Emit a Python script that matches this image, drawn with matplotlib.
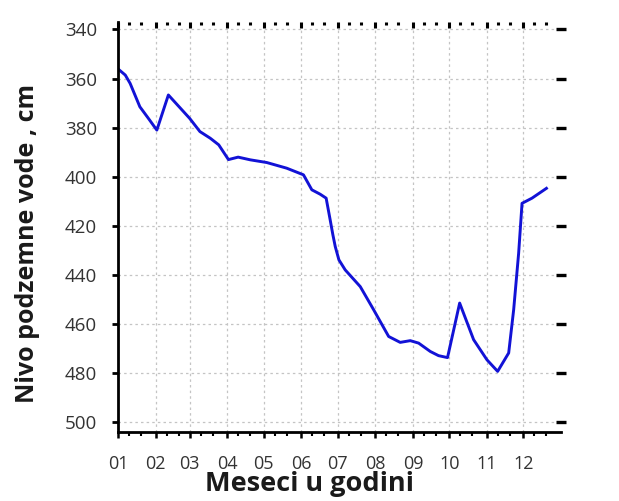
import matplotlib
matplotlib.use('Agg')
import matplotlib.pyplot as plt

# dan u godini i nivo podzemne vode (cm), procitano sa grafika
days = [1, 6, 10, 18, 25, 32, 41.5, 59, 67.5, 76, 83, 91, 99, 109, 122.6,
        139, 152.8, 159.7, 166.6, 171.5, 174.8, 177, 179, 182, 187.2, 199.6,
        210.6, 223, 232.5, 240.8, 247.7, 257.3, 264.1, 271.5, 281.5, 293,
        304, 312.8, 321.9, 326, 330.1, 332.9, 341.1, 353]
levels = [356.5, 358.6, 362, 371.5, 376.2, 381, 366.7, 376.2, 381.6, 384.3,
          387, 393, 392, 393.1, 394.2, 396.5, 399.2, 405.3, 407.1, 408.7,
          417.5, 423.5, 428.4, 433.8, 437.9, 444.7, 454.1, 465.0, 467.4, 466.7,
          467.7, 471.1, 472.8, 473.6, 451.4, 466.3, 474.5, 479.2, 471.7,
          454.1, 431.1, 410.8, 408.7, 404.7]

month_starts = [0, 31, 59, 90, 120, 151, 181, 212, 243, 273, 304, 334]
month_labels = ['01', '02', '03', '04', '05', '06', '07', '08', '09', '10', '11', '12']
y_ticks = [340, 360, 380, 400, 420, 440, 460, 480, 500]

fig = plt.figure(figsize=(6.19, 5.01), dpi=100)
ax = fig.add_axes([118 / 619, 1 - 432.3 / 501, 443 / 619, 410.3 / 501])

ax.plot(days, levels, color='#1212d6', linewidth=2.1, solid_joinstyle='round')

ax.set_xlim(0, 365)
ax.set_ylim(504, 337)

ax.set_xticks(month_starts)
ax.set_xticklabels(month_labels)
minor = []
for m in month_starts:
    minor += [m + 9, m + 19]
ax.set_xticks(minor, minor=True)
ax.set_yticks(y_ticks)

ax.grid(True, which='major', color='#c4c4c4', linestyle=(0, (2, 2.5)), linewidth=0.9)

for side in ['top', 'right']:
    ax.spines[side].set_visible(False)
for side in ['left', 'bottom']:
    ax.spines[side].set_linewidth(2.0)
    ax.spines[side].set_color('black')

ax.tick_params(axis='x', which='major', direction='out', length=4, width=1.8,
               top=True, pad=12, labelsize=13, labelcolor='#333333')
ax.tick_params(axis='x', which='minor', direction='out', length=3, width=1.5,
               top=True)
ax.tick_params(axis='x', which='both', labeltop=False)
# gornji tikovi kao tackice
for t in ax.xaxis.get_major_ticks():
    t.tick2line.set_marker(3)
    t.tick2line.set_markersize(4.5)
    t.tick2line.set_markeredgewidth(2.2)
for t in ax.xaxis.get_minor_ticks():
    t.tick2line.set_marker(3)
    t.tick2line.set_markersize(2.5)
    t.tick2line.set_markeredgewidth(2.2)

ax.tick_params(axis='y', which='major', direction='out', length=4, width=2,
               right=True, pad=11, labelsize=13.5, labelcolor='#333333')
for t in ax.yaxis.get_major_ticks():
    t.tick2line.set_marker('_')
    t.tick2line.set_markersize(7)
    t.tick2line.set_markeredgewidth(2.4)

for lab in ax.get_xticklabels() + ax.get_yticklabels():
    lab.set_fontfamily('Open Sans')

ax.set_xlabel('Meseci u godini', fontsize=19.5, fontweight='bold',
              fontfamily='Open Sans', color='#1a1a1a')
ax.set_ylabel('Nivo podzemne vode , cm', fontsize=18, fontweight='bold',
              fontfamily='Open Sans', color='#1a1a1a')
ax.xaxis.set_label_coords(0.433, -0.094)
ax.yaxis.set_label_coords(-0.176, 0.46)

fig.savefig('out.png', dpi=100)
